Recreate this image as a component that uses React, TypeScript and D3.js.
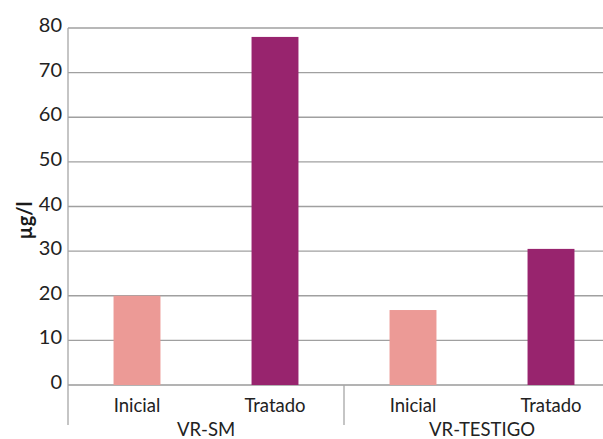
import React from "react";
import * as d3 from "d3";

// Concentration (µg/l) per sampling site and stage
const groups = ["VR-SM", "VR-TESTIGO"];
const stages = ["Inicial", "Tratado"];
const valuesInicial = [20, 16.8];
const valuesTratado = [78, 30.5];
const yTicks = [0, 10, 20, 30, 40, 50, 60, 70, 80];

const stageColors: Record<string, string> = {
  Inicial: "#EC9A96",
  Tratado: "#98246E",
};

const W = 603;
const H = 439;
const margin = { left: 68, top: 28, right: -17, bottom: 54 };
const font = "Lato, 'Open Sans', sans-serif";

export default function App() {
  const rows = groups.flatMap((g, gi) => [
    { group: g, stage: stages[0], value: valuesInicial[gi], key: `${g}|${stages[0]}` },
    { group: g, stage: stages[1], value: valuesTratado[gi], key: `${g}|${stages[1]}` },
  ]);

  const x0 = margin.left;
  const x1 = W - margin.right;
  const yBottom = H - margin.bottom;

  const x = d3
    .scaleBand<string>()
    .domain(rows.map((r) => r.key))
    .range([x0, x1])
    .paddingInner(0.66)
    .paddingOuter(0.33);

  const y = d3.scaleLinear().domain([0, 80]).range([yBottom, margin.top]);

  const step = x.step();
  const groupStart = (gi: number) => x0 + gi * 2 * step;
  const axisColor = "#a6a6a6";

  return (
    <svg
      width={W}
      height={H}
      style={{ position: "absolute", left: 0, top: 0, background: "#fff" }}
    >
      {/* gridlines */}
      {yTicks.map((t) => (
        <line
          key={t}
          x1={x0}
          x2={W}
          y1={y(t)}
          y2={y(t)}
          stroke={t === 0 ? "#9a9a9a" : "#a0a0a0"}
          strokeWidth={1.3}
        />
      ))}
      {/* y tick labels */}
      {yTicks.map((t) => (
        <text
          key={`l${t}`}
          x={62}
          y={y(t)}
          dy="-0.05em"
          textAnchor="end"
          fontFamily={font}
          fontSize={20}
          fill="#222"
          dominantBaseline="middle"
        >
          {t}
        </text>
      ))}
      {/* bars */}
      {rows.map((r) => (
        <rect
          key={r.key}
          x={x(r.key)}
          width={x.bandwidth()}
          y={y(r.value)}
          height={yBottom - y(r.value)}
          fill={stageColors[r.stage]}
        />
      ))}
      {/* y axis line */}
      <line x1={x0} x2={x0} y1={margin.top} y2={yBottom + 40} stroke={axisColor} strokeWidth={1.3} />
      {/* group separators */}
      {groups.slice(1).map((g, i) => (
        <line
          key={g}
          x1={groupStart(i + 1)}
          x2={groupStart(i + 1)}
          y1={yBottom}
          y2={yBottom + 40}
          stroke={axisColor}
          strokeWidth={1.3}
        />
      ))}
      {/* stage labels */}
      {rows.map((r) => (
        <text
          key={`s${r.key}`}
          x={(x(r.key) ?? 0) + x.bandwidth() / 2}
          y={yBottom + 27}
          textAnchor="middle"
          fontFamily={font}
          fontSize={18.5}
          fill="#222"
        >
          {r.stage}
        </text>
      ))}
      {/* group labels */}
      {groups.map((g, gi) => (
        <text
          key={`g${g}`}
          x={groupStart(gi) + step}
          y={yBottom + 51}
          textAnchor="middle"
          fontFamily={font}
          fontSize={18.5}
          fill="#222"
        >
          {g}
        </text>
      ))}
      {/* y axis title */}
      <text
        transform={`translate(32, ${(margin.top + yBottom) / 2 + 14}) rotate(-90)`}
        textAnchor="middle"
        fontFamily={font}
        fontSize={20}
        fontWeight="bold"
        fill="#1a1a1a"
      >
        µg/l
      </text>
    </svg>
  );
}
